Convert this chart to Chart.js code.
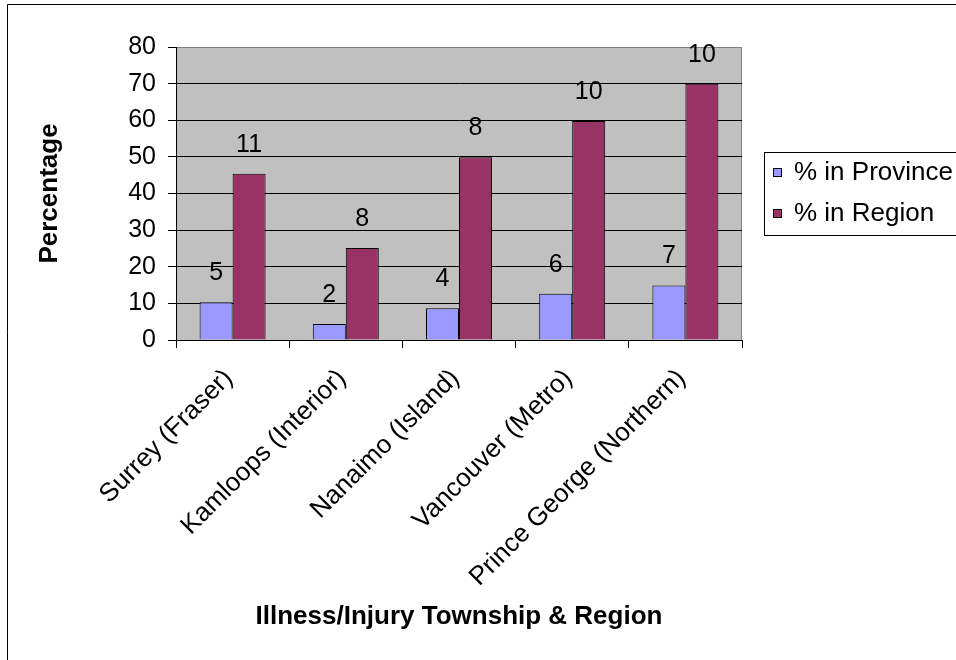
<!DOCTYPE html>
<html>
<head>
<meta charset="utf-8">
<script src="https://cdn.jsdelivr.net/npm/chart.js@4/dist/chart.umd.min.js"></script>
<style>
  html, body { margin: 0; padding: 0; background: #ffffff; }
  #wrap { position: relative; width: 956px; height: 660px; }
</style>
</head>
<body>
<div id="wrap"><canvas id="c" width="956" height="660"></canvas></div>
<script>
// ---- data ----
const categories = ["Surrey (Fraser)", "Kamloops (Interior)", "Nanaimo (Island)", "Vancouver (Metro)", "Prince George (Northern)"];
const seriesNames = ["% in Province", "% in Region"];
const provinceValues = [10.3, 4.4, 8.7, 12.6, 14.9];
const regionValues = [45.4, 25.1, 49.9, 59.8, 70];
const provinceLabels = [5, 2, 4, 6, 7];
const regionLabels = [11, 8, 8, 10, 10];
const yTicks = [0, 10, 20, 30, 40, 50, 60, 70, 80];
const yTitle = "Percentage";
const xTitle = "Illness/Injury Township & Region";

const FONT = "'Liberation Sans', Arial, sans-serif";

const plotBg = {
  id: 'plotBg',
  beforeDraw(chart) {
    const {ctx, chartArea: a} = chart;
    ctx.save();
    ctx.strokeStyle = '#000000';
    ctx.lineWidth = 1;
    ctx.beginPath();
    ctx.moveTo(7.5, 660);
    ctx.lineTo(7.5, 4.5);
    ctx.lineTo(956, 4.5);
    ctx.stroke();
    ctx.fillStyle = '#C0C0C0';
    ctx.fillRect(a.left, a.top, a.right - a.left, a.bottom - a.top);
    ctx.strokeStyle = '#808080';
    ctx.strokeRect(a.left + 0.5, a.top + 0.5, a.right - a.left - 1, a.bottom - a.top);
    ctx.restore();
  }
};

const valueLabels = {
  id: 'valueLabels',
  afterDatasetsDraw(chart) {
    const {ctx} = chart;
    const lbls = [provinceLabels, regionLabels];
    ctx.save();
    ctx.fillStyle = '#000000';
    ctx.font = '25px ' + FONT;
    ctx.textAlign = 'center';
    ctx.textBaseline = 'middle';
    chart.data.datasets.forEach((ds, di) => {
      const meta = chart.getDatasetMeta(di);
      meta.data.forEach((bar, i) => {
        ctx.fillText(String(lbls[di][i]), bar.x, bar.y - 29);
      });
    });
    ctx.restore();
  }
};

const categoryLabels = {
  id: 'categoryLabels',
  afterDraw(chart) {
    const {ctx} = chart;
    const xs = chart.scales.x;
    ctx.save();
    ctx.fillStyle = '#000000';
    ctx.font = '26px ' + FONT;
    ctx.textAlign = 'right';
    ctx.textBaseline = 'top';
    chart.data.labels.forEach((lab, i) => {
      const x = xs.getPixelForTick(i);
      ctx.save();
      ctx.translate(x - 13, xs.top + 25);
      ctx.rotate(-Math.PI / 4);
      ctx.fillText(lab, 0, 0);
      ctx.restore();
    });
    ctx.restore();
  }
};

const customLegend = {
  id: 'customLegend',
  afterDraw(chart) {
    const {ctx} = chart;
    ctx.save();
    ctx.strokeStyle = '#000000';
    ctx.lineWidth = 1;
    ctx.strokeRect(764.5, 152.5, 300, 83);
    ctx.font = '26px ' + FONT;
    ctx.textAlign = 'left';
    ctx.textBaseline = 'middle';
    const ys = [172, 213];
    chart.data.datasets.forEach((ds, i) => {
      ctx.fillStyle = ds.backgroundColor;
      ctx.fillRect(773, ys[i] - 4, 8, 8);
      ctx.strokeStyle = '#000000';
      ctx.strokeRect(773.5, ys[i] - 3.5, 8, 8);
      ctx.fillStyle = '#000000';
      ctx.fillText(ds.label, 794, ys[i] + 1);
    });
    ctx.restore();
  }
};

new Chart(document.getElementById('c'), {
  type: 'bar',
  data: {
    labels: categories,
    datasets: [
      { label: seriesNames[0], data: provinceValues, backgroundColor: '#9999FF', borderColor: '#000000', borderWidth: 1 },
      { label: seriesNames[1], data: regionValues, backgroundColor: '#993366', borderColor: '#000000', borderWidth: 1 }
    ]
  },
  options: {
    responsive: false,
    animation: false,
    devicePixelRatio: 1,
    layout: { padding: { left: 0, top: 47, right: 214, bottom: 0 } },
    datasets: { bar: { categoryPercentage: 0.583, barPercentage: 1.0 } },
    plugins: { legend: { display: false }, tooltip: { enabled: false } },
    scales: {
      x: {
        grid: { display: true, drawOnChartArea: false, drawTicks: true, tickLength: 8, color: '#000000', offset: true },
        border: { display: true, color: '#000000', width: 1 },
        ticks: { display: false, autoSkip: false },
        title: { display: true, text: xTitle, color: '#000000', font: { family: FONT, size: 26, weight: 'bold' }, padding: { top: 0, bottom: 28 } },
        afterFit(scale) { scale.height = 320; }
      },
      y: {
        min: 0, max: 80,
        afterBuildTicks(scale) { scale.ticks = yTicks.map(v => ({ value: v })); },
        grid: {
          color: (c) => (c.tick && c.tick.value === 80) ? '#808080' : '#000000',
          tickColor: '#000000',
          drawTicks: true, tickLength: 8, lineWidth: 1
        },
        border: { display: true, color: '#000000', width: 1 },
        ticks: { color: '#000000', font: { family: FONT, size: 25 }, padding: 12 },
        title: { display: true, text: yTitle, color: '#000000', font: { family: FONT, size: 26, weight: 'bold' }, padding: { top: 34, bottom: 0 } },
        afterFit(scale) { scale.width = 176; }
      }
    }
  },
  plugins: [plotBg, valueLabels, categoryLabels, customLegend]
});
</script>
</body>
</html>
